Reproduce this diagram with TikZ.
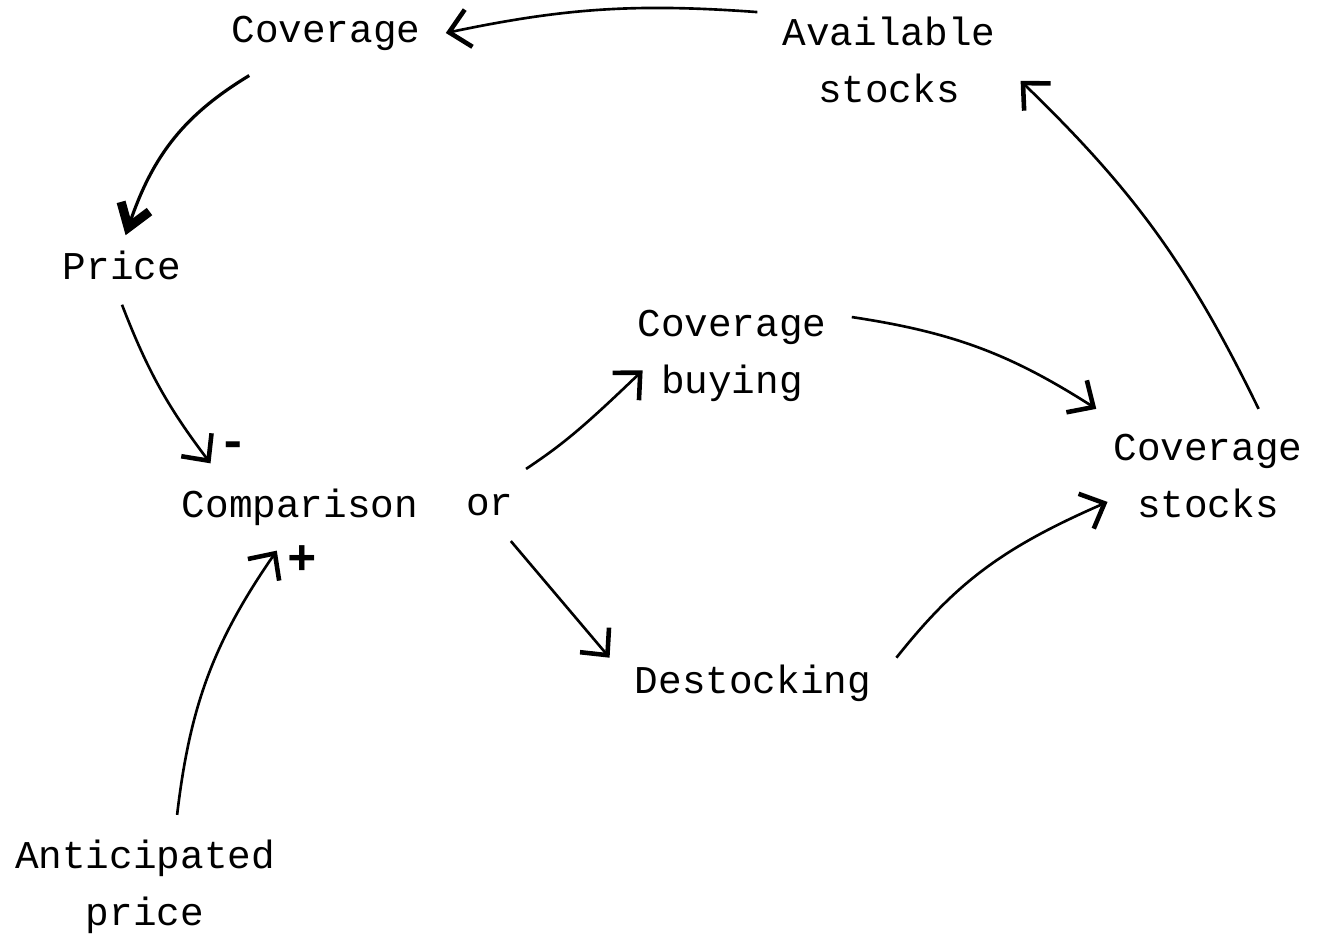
\documentclass[tikz,border=0pt]{standalone}
\usepackage{fontspec}
\setmonofont{Liberation Mono}
\usetikzlibrary{arrows.meta}
\begin{document}
\begin{tikzpicture}[
    box/.style={inner sep=7pt, align=center, font=\ttfamily\fontsize{11.2}{16.2}\selectfont},
    sign/.style={inner sep=0pt, font=\ttfamily\bfseries\fontsize{14}{16}\selectfont},
    link/.style={line width=0.75pt, -{Straight Barb[length=2mm,width=3.8mm,line width=1.3pt]}},
    heavy/.style={line width=0.9pt, -{Straight Barb[length=2.2mm,width=3mm,line width=2.6pt]}}
  ]
    \useasboundingbox (0, 0) rectangle (13.21, -9.39);

    \node[box] (cov) at (3.26, -0.33) {Coverage};
    \node[box] (avail) at (8.89, -0.60) {Available\\stocks};
    \node[box] (price) at (1.22, -2.65) {Price};
    \node[box] (comp) at (3.00, -5.07) {Comparison};
    \node[box] (or) at (4.90, -5.05) {or};
    \node[box] (buy) at (7.32, -3.56) {Coverage\\buying};
    \node[box] (stocks) at (12.08, -4.76) {Coverage\\stocks};
    \node[box] (dest) at (7.53, -6.83) {Destocking};
    \node[box] (antic) at (1.45, -8.87) {Anticipated\\price};

    \node[sign] (minus) at (2.33, -4.50) {-};
    \node[sign] (plus) at (3.02, -5.60) {+};

    \draw[link] (avail.160) to[bend right=8] (cov.east);
    \draw[heavy, shorten >=-3pt] (cov.209) to[bend right=20] (price.80);
    \draw[link] (price.south) to[bend right=8] (comp.154);
    \draw[link] (antic.66) to[bend left=14] (comp.242);
    \draw[link, shorten >=-12pt] (or.45) to[bend right=5] (buy.200);
    \draw[link] (or.300) -- (dest.170);
    \draw[link] (buy.18) to[bend left=12] (stocks.149);
    \draw[link, shorten >=-6pt] (dest.10) to[bend left=14] (stocks.196);
    \draw[link] (stocks.53) to[bend right=10] (avail.351);
  \end{tikzpicture}
\end{document}
